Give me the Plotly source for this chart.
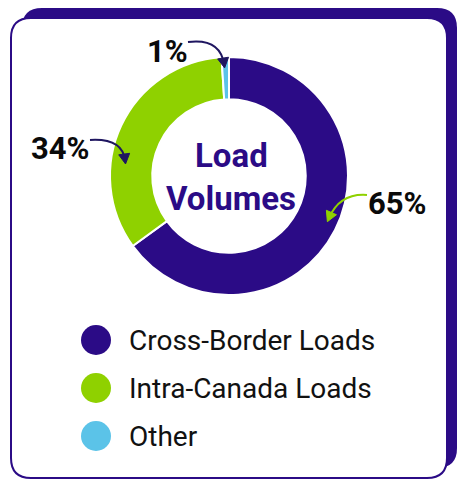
import plotly.graph_objects as go
import math

# ---- data ----
categories = ["Cross-Border Loads", "Intra-Canada Loads", "Other"]
shares = [65, 34, 1]
colors = ["#2B0B86", "#8FD100", "#5BC3E8"]
center_title = ["Load", "Volumes"]

W, H = 463, 486
PURPLE = "#2B0B86"

fig = go.Figure()

# donut
cx, cy, R = 229, 176, 119
fig.add_trace(go.Pie(
    labels=categories, values=shares, sort=False, direction="clockwise", rotation=0,
    hole=0.645, marker=dict(colors=colors, line=dict(color="white", width=2)),
    textinfo="none", hoverinfo="skip", showlegend=False,
    domain=dict(x=[(cx - R) / W, (cx + R) / W], y=[(H - cy - R) / H, (H - cy + R) / H]),
))

# legend markers on a pixel-space axis
leg_x, leg_y0, leg_dy = 96, 340, 48
fig.add_trace(go.Scatter(
    x=[leg_x] * len(categories), y=[leg_y0 + i * leg_dy for i in range(len(categories))],
    mode="markers", marker=dict(size=30, color=colors, line=dict(width=0)),
    hoverinfo="skip", showlegend=False,
))
for i, c in enumerate(categories):
    fig.add_annotation(x=127, y=leg_y0 + i * leg_dy, xref="x", yref="y", text=c,
                       showarrow=False, xanchor="left", yanchor="middle",
                       font=dict(family="Roboto", size=28, color="#111111"))


def rrect(x0, y0, x1, y1, r):
    return (f"M {x0+r},{y0} L {x1-r},{y0} Q {x1},{y0} {x1},{y0+r} L {x1},{y1-r} "
            f"Q {x1},{y1} {x1-r},{y1} L {x0+r},{y1} Q {x0},{y1} {x0},{y1-r} "
            f"L {x0},{y0+r} Q {x0},{y0} {x0+r},{y0} Z")

shapes = []
# shadow card
shapes.append(dict(type="path", xref="x", yref="y", path=rrect(22, 8, 457, 468, 20),
                   fillcolor=PURPLE, line=dict(width=0), layer="below"))
# white card
shapes.append(dict(type="path", xref="x", yref="y", path=rrect(11, 18, 447, 478, 20),
                   fillcolor="white", line=dict(color=PURPLE, width=2), layer="below"))


def curved_arrow(p0, pc, p1, color):
    path = f"M {p0[0]},{p0[1]} Q {pc[0]},{pc[1]} {p1[0]},{p1[1]}"
    shapes.append(dict(type="path", xref="x", yref="y", path=path,
                       line=dict(color=color, width=2)))
    dx, dy = p1[0] - pc[0], p1[1] - pc[1]
    L = math.hypot(dx, dy)
    ux, uy = dx / L, dy / L
    hl, hw = 10, 5.5
    tip = (p1[0] + ux * 4, p1[1] + uy * 4)
    bx, by = tip[0] - ux * hl, tip[1] - uy * hl
    a = (bx - uy * hw, by + ux * hw)
    b = (bx + uy * hw, by - ux * hw)
    shapes.append(dict(type="path", xref="x", yref="y",
                       path=f"M {tip[0]},{tip[1]} L {a[0]},{a[1]} L {b[0]},{b[1]} Z",
                       fillcolor=color, line=dict(color=color, width=1)))

NAVY = "#1F1660"
# 65% arrow (green)
curved_arrow((367, 195), (340, 193), (329, 218), colors[1])
# 34% arrow
curved_arrow((90, 140), (122, 138), (125, 160), NAVY)
# 1% arrow
curved_arrow((188, 42), (220, 38), (224, 64), NAVY)

fig.update_layout(shapes=shapes)

# percentage labels
label_pos = [(397, 203), (60, 148), (167, 51)]
for (x, y), v in zip(label_pos, shares):
    fig.add_annotation(x=x, y=y, xref="x", yref="y", text=f"<b>{v}%</b>", showarrow=False,
                       font=dict(family="Roboto", size=31, color="#0A0A0A"))

# center title
for i, t in enumerate(center_title):
    fig.add_annotation(x=cx + 2, y=155 + i * 43, xref="x", yref="y", text=f"<b>{t}</b>",
                       showarrow=False, font=dict(family="Roboto", size=33, color=PURPLE))

fig.update_layout(
    width=W, height=H, margin=dict(l=0, r=0, t=0, b=0),
    paper_bgcolor="white", plot_bgcolor="rgba(0,0,0,0)",
    xaxis=dict(range=[0, W], visible=False, fixedrange=True),
    yaxis=dict(range=[H, 0], visible=False, fixedrange=True),
    showlegend=False,
)

fig.write_html("out.html")
